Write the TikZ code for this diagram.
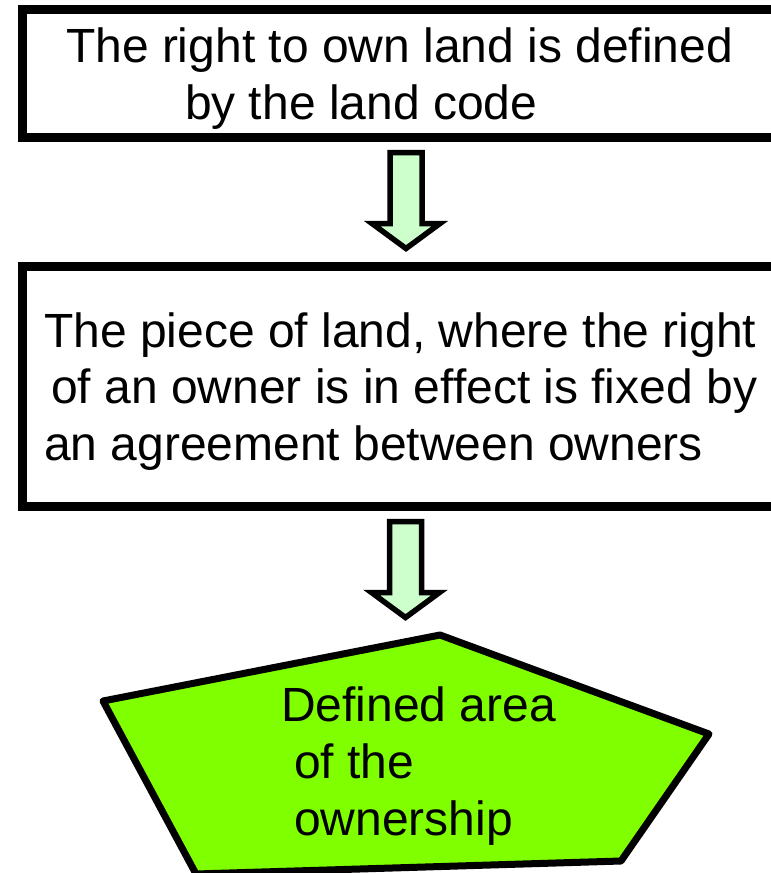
\documentclass[tikz,border=0pt]{standalone}
\usepackage{fontspec}
\setmainfont{Liberation Sans}
\usetikzlibrary{calc}
\definecolor{arrowfill}{RGB}{204,255,204}
\definecolor{areafill}{RGB}{128,255,0}
% block arrow, #1 = middle of its top edge
\newcommand\landarrow[1]{%
\filldraw[arrowline] ($(#1)+(-16,0)$)
 --($(#1)+(16,0)$)
 --($(#1)+(16,71)$)
 --($(#1)+(34,71)$)
 --($(#1)+(0,96)$)
 --($(#1)+(-34,71)$)
 --($(#1)+(-16,71)$) --cycle;}
\begin{document}
\begin{tikzpicture}[x=1bp,y=-1bp,
  textbox/.style={draw,line width=9bp,outer sep=0pt,anchor=west,inner ysep=0pt,
    align=flush left,font=\fontsize{48bp}{56.5bp}\selectfont},
  arrowline/.style={draw=black,fill=arrowfill,line width=5.5bp},
  arealine/.style={draw=black,fill=areafill,line width=7bp,line join=round}]
\useasboundingbox (0,0) rectangle (771,873);
\node[textbox,inner xsep=43.5bp,text width=700bp,minimum height=128bp] (code)
 at (22.5,73.5) {\rule{0pt}{45bp}The right to own land is defined\\
 \hspace*{119bp}by the land code};
\node[textbox,inner xsep=22bp,text width=745bp,minimum height=240bp] (piece)
 at (22,386) {\rule{0pt}{45bp}The piece of land, where the right\\
 \hspace*{7bp}of an owner is in effect is fixed by\\
 an agreement between owners};
\coordinate (ptop) at (440,635);
\coordinate (pright) at (709,734);
\coordinate (pbr) at (621,861);
\coordinate (pbl) at (196,874);
\coordinate (pleft) at (103,701);
\filldraw[arealine] (ptop) -- (pright) -- (pbr) -- (pbl) -- (pleft) -- cycle;
\node[anchor=north west,inner sep=0pt,align=left,
 font=\fontsize{48bp}{57bp}\selectfont] (area) at (281,687)
 {Defined area\\\hspace*{13bp}of the\\\hspace*{13bp}ownership};
\coordinate (arr1) at ($(code.south)+(-10,15)$);
\coordinate (arr2) at ($(piece.south)+(-11,15.5)$);
\landarrow{arr1}
\landarrow{arr2}
\end{tikzpicture}
\end{document}
